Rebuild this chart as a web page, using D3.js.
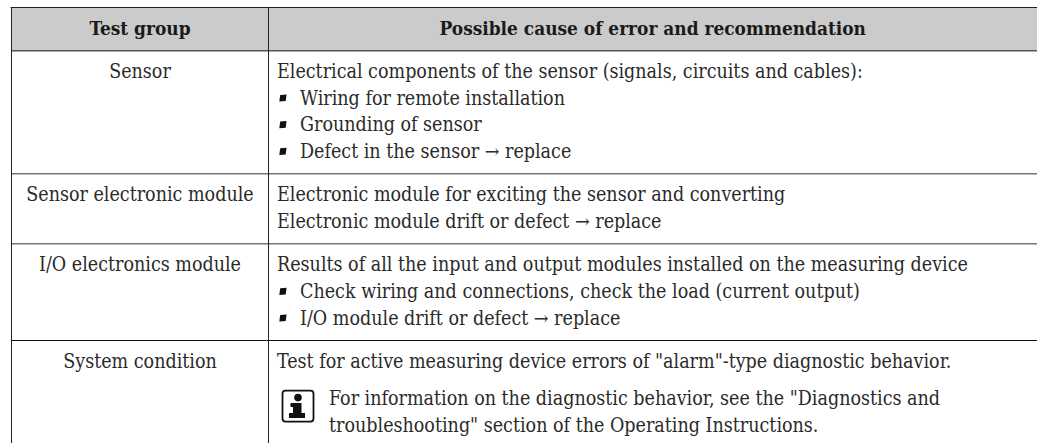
<!DOCTYPE html>
<html lang="en">
<head>
<meta charset="UTF-8">
<title>Test groups</title>
<style type="text/css">
	body{
		margin: 0;
		background: #fff;
	}
	svg { display: block }
	text {
		font-family: "DejaVu Serif", serif;
		font-stretch: condensed;
		font-size: 19.5px;
		fill: #2a2a2a;
	}
	.head text { font-weight: bold; font-size: 18.9px; fill: #1a1a1a }
</style>
<script src="https://cdn.jsdelivr.net/npm/d3@7"></script>
</head>
<body>
<script type="text/javascript">

var columns = ['Test group', 'Possible cause of error and recommendation'];
var groups = ['Sensor', 'Sensor electronic module', 'I/O electronics module', 'System condition'];
var rowLines = [
	[
		'Electrical components of the sensor (signals, circuits and cables):',
		'• Wiring for remote installation',
		'• Grounding of sensor',
		'• Defect in the sensor → replace'
	],
	[
		'Electronic module for exciting the sensor and converting',
		'Electronic module drift or defect → replace'
	],
	[
		'Results of all the input and output modules installed on the measuring device',
		'• Check wiring and connections, check the load (current output)',
		'• I/O module drift or defect → replace'
	],
	[
		'Test for active measuring device errors of "alarm"-type diagnostic behavior.'
	]
];
var noteLines = [
	'For information on the diagnostic behavior, see the "Diagnostics and',
	'troubleshooting" section of the Operating Instructions.'
];

var width = 1037, height = 443;
var lineStep = 26.7, rowGap = 43.3, noteGap = 37;

var svg = d3.select('body').append('svg')
	.attr('width', width)
	.attr('height', height);

var xCol = d3.scaleOrdinal().domain(columns).range([11.5, 268.5]);
var colMid = [(xCol(columns[0]) + xCol(columns[1])) / 2, (xCol(columns[1]) + width) / 2];
var textX = 277, bulletTextX = 300, noteTextX = 329;

// baselines: walk through the rows and add up the line steps
var y = 78;
var rows = rowLines.map((lines, i) => {
	var r = { group: groups[i], lines: [], top: y };
	lines.forEach((t, k) => {
		r.lines.push({ text: t, y: y });
		if (k < lines.length - 1) y += lineStep;
	});
	if (i < rowLines.length - 1) y += rowGap;
	return r;
});

svg.append('rect')
	.attr('x', xCol(columns[0])).attr('y', 7.5)
	.attr('width', width - xCol(columns[0])).attr('height', 43)
	.attr('fill', '#cbcbcb');

var head = svg.append('g').attr('class', 'head');
head.selectAll('text').data(columns).enter().append('text')
	.attr('x', (d, i) => colMid[i])
	.attr('y', 35)
	.attr('text-anchor', 'middle')
	.text(d => d);

var body = svg.append('g').attr('class', 'body');

body.selectAll('.group').data(rows).enter().append('text')
	.attr('class', 'group')
	.attr('x', colMid[0])
	.attr('y', d => d.top)
	.attr('text-anchor', 'middle')
	.text(d => d.group);

var allLines = d3.merge(rows.map(r => r.lines));
body.selectAll('.line').data(allLines).enter().append('text')
	.attr('class', 'line')
	.attr('x', d => d.text[0] == '•' ? bulletTextX : textX)
	.attr('y', d => d.y)
	.text(d => d.text.replace(/^• /, ''));

// square bullets, slightly slanted like in the print
body.selectAll('.bullet').data(allLines.filter(d => d.text[0] == '•')).enter().append('path')
	.attr('class', 'bullet')
	.attr('d', d => `M${textX + 3.2},${d.y - 9.8} l6.4,-0.5 l-0.9,6.6 l-6.4,0.5 z`)
	.attr('fill', '#111');

var noteY = y + noteGap;
body.selectAll('.note').data(noteLines).enter().append('text')
	.attr('class', 'note')
	.attr('x', noteTextX)
	.attr('y', (d, i) => noteY + i * lineStep)
	.text(d => d);

// info icon
var icon = body.append('g').attr('transform', `translate(282,${noteY - 15})`);
icon.append('rect').attr('x', 0.5).attr('y', 0.5).attr('width', 31).attr('height', 31).attr('rx', 3)
	.attr('fill', 'none').attr('stroke', '#111').attr('stroke-width', 1.8);
icon.append('circle').attr('cx', 16).attr('cy', 7.5).attr('r', 3.8).attr('fill', '#111');
icon.append('path').attr('fill', '#111')
	.attr('d', 'M8.5,13 h11 v10 h3.5 v5 h-16 v-5 h4 v-6 h-2.5 z');

// rules
var rules = svg.append('g');
rules.append('line').attr('x1', xCol(columns[0]) - 1).attr('x2', width).attr('y1', 7.5).attr('y2', 7.5)
	.attr('stroke', '#222');
rules.append('line').attr('x1', xCol(columns[0])).attr('x2', width).attr('y1', 50.7).attr('y2', 50.7)
	.attr('stroke', '#555').attr('stroke-width', 1.5);
var sepY = d => d.top - 27.7;
rules.selectAll('.sep').data(rows.slice(1)).enter().append('line')
	.attr('class', 'sep')
	.attr('x1', xCol(columns[0])).attr('x2', width)
	.attr('y1', (d, i) => i == 2 ? Math.floor(sepY(d)) + 0.5 : sepY(d))
	.attr('y2', (d, i) => i == 2 ? Math.floor(sepY(d)) + 0.5 : sepY(d))
	.attr('stroke', (d, i) => i == 2 ? '#111' : '#777')
	.attr('stroke-width', (d, i) => i == 2 ? 1 : 1.5);
rules.selectAll('.col').data(columns).enter().append('line')
	.attr('class', 'col')
	.attr('x1', d => xCol(d)).attr('x2', d => xCol(d))
	.attr('y1', 7.5).attr('y2', height)
	.attr('stroke', '#222');

</script>
</body>
</html>
